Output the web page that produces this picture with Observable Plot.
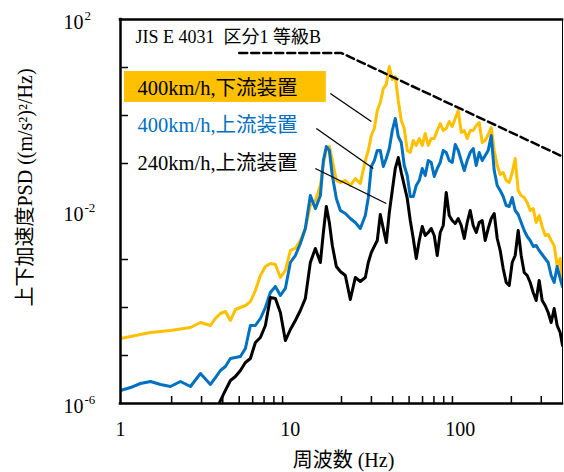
<!DOCTYPE html>
<html>
<head>
<meta charset="utf-8">
<script src="https://cdn.jsdelivr.net/npm/d3@7"></script>
<script src="https://cdn.jsdelivr.net/npm/@observablehq/plot@0.6"></script>
<style>
  body { margin: 0; background: #fff; }
  #chart { width: 564px; height: 472px; }
</style>
</head>
<body>
<div id="chart"></div>
<script>
// Frequency grid (Hz) shared by the three vertical-acceleration PSD curves
const freq = [1, 1.145, 1.311, 1.502, 1.719, 1.969, 2.254, 2.581, 2.955, 3.384,
  3.622, 3.875, 4.146, 4.437, 4.748, 5.08, 5.436, 5.817, 6.225, 6.661,
  7.128, 7.627, 8.162, 8.734, 9.346, 10, 10.70, 11.45, 12.25, 13.11,
  14.03, 15.02, 15.64, 16.28, 16.96, 17.66, 18.65, 19.69, 21.07, 22.54,
  24.12, 25.81, 27.62, 28.76, 29.96, 31.20, 32.49, 33.84, 35.24, 36.71,
  38.23, 39.81, 41.46, 43.18, 44.97, 46.83, 48.77, 50.80, 52.90, 55.09,
  57.38, 59.76, 62.23, 64.81, 67.50, 70.30, 73.21, 76.24, 79.43, 82.72,
  86.15, 89.72, 93.45, 97.32, 101.4, 105.6, 109.9, 114.5, 119.2, 124.2,
  129.3, 134.7, 140.3, 146.1, 152.2, 158.5, 165.1, 171.9, 179.0, 186.5,
  194.2, 202.3, 210.6, 219.4, 228.5, 238.0, 247.9, 258.2, 268.9, 280.0,
  291.6, 303.7, 316.2, 329.4, 343.1, 357.3, 372.1, 387.5, 400];

// 400 km/h, downstream device ((m/s^2)^2/Hz)
const psdDown400 = [2.26e-5, 2.49e-5, 2.74e-5, 3.01e-5, 3.16e-5, 3.32e-5, 3.56e-5, 3.83e-5, 4.87e-5, 4.22e-5,
  5.90e-5, 7.50e-5, 8.25e-5, 5.36e-5, 9.08e-5, 1.0e-4, 1.10e-4, 1.33e-4, 2.26e-4, 4.64e-4,
  7.14e-4, 8.25e-4, 7.87e-4, 4.22e-4, 5.90e-4, 1.54e-3, 1.70e-3, 2.49e-3, 4.42e-3, 1.33e-2,
  1.70e-2, 3.48e-2, 0.10, 0.187, 0.226, 0.115, 0.0442, 0.0402, 0.0442, 0.0348,
  0.0487, 0.0383, 0.115, 0.187, 0.383, 0.536, 1.27, 1.87, 3.65, 4.42,
  10.5, 5.62, 6.49, 2.05, 0.787, 0.536, 0.187, 0.170, 0.301, 0.237,
  0.332, 0.237, 0.422, 0.237, 0.332, 0.332, 0.487, 0.681, 0.487, 0.536,
  0.750, 0.590, 0.866, 1.27, 0.442, 0.487, 0.332, 0.487, 0.487, 0.619,
  0.714, 0.274, 0.301, 0.402, 0.562, 0.187, 0.0908, 0.0590, 0.0649, 0.0442,
  0.0402, 0.0649, 0.127, 0.0274, 0.0215, 0.0196, 0.0154, 0.0105, 0.0115, 0.0059,
  0.00825, 0.00487, 0.00316, 0.00332, 0.00249, 0.00196, 7.5e-4, 1.05e-3, 2.9e-4];

// 400 km/h, upstream device
const psdUp400 = [1.87e-6, 2.15e-6, 2.61e-6, 2.87e-6, 2.49e-6, 2.26e-6, 2.87e-6, 2.26e-6, 4.22e-6, 2.49e-6,
  3.48e-6, 4.87e-6, 5.90e-6, 8.66e-6, 9.08e-6, 9.53e-6, 1.40e-5, 4.22e-5, 4.22e-5, 5.90e-5,
  1.0e-4, 2.05e-4, 2.74e-4, 1.78e-4, 2.49e-4, 8.66e-4, 1.21e-3, 2.15e-3, 4.42e-3, 2.15e-2,
  1.15e-2, 2.15e-2, 0.115, 0.226, 0.187, 0.0562, 0.0187, 0.0105, 9.08e-3, 7.14e-3,
  5.90e-3, 4.42e-3, 8.25e-3, 0.0196, 0.0866, 0.115, 0.187, 0.187, 0.0866, 0.127,
  0.205, 0.487, 0.866, 0.365, 0.274, 0.0908, 0.0562, 0.0205, 0.0205, 0.0348,
  0.0442, 0.0787, 0.0562, 0.115, 0.105, 0.0536, 0.0787, 0.105, 0.187, 0.170,
  0.115, 0.105, 0.249, 0.187, 0.115, 0.0714, 0.115, 0.170, 0.205, 0.0908,
  0.170, 0.115, 0.147, 0.187, 0.383, 0.0714, 0.0348, 0.0274, 0.0205, 0.0133,
  0.0127, 0.0196, 0.0105, 8.66e-3, 5.90e-3, 4.02e-3, 3.01e-3, 2.49e-3, 1.87e-3, 1.96e-3,
  1.54e-3, 1.27e-3, 1.05e-3, 8.66e-4, 4.64e-4, 3.32e-4, 7.14e-4, 4.02e-4, 2.74e-4];

// 240 km/h, upstream device (below the axis minimum under ~3.6 Hz)
const psdUp240 = [null, null, null, null, null, null, null, null, null, null,
  6.5e-7, 1.15e-6, 1.87e-6, 3.01e-6, 3.65e-6, 4.87e-6, 7.14e-6, 8.66e-6, 1.87e-5, 2.37e-5,
  4.22e-5, 1.62e-4, 1.54e-4, 7.87e-5, 2.05e-5, 3.48e-5, 5.36e-5, 8.66e-5, 1.54e-4, 8.66e-4,
  1.70e-3, 8.66e-4, 3.65e-3, 1.27e-2, 5.90e-3, 1.96e-3, 7.14e-4, 5.62e-4, 4.64e-4, 1.47e-4,
  4.22e-4, 3.48e-4, 4.22e-4, 8.66e-4, 1.40e-3, 1.87e-3, 2.49e-3, 8.66e-3, 4.42e-3, 2.26e-3,
  9.53e-3, 0.0274, 0.0787, 0.133, 0.0649, 0.0348, 0.0187, 6.49e-3, 2.74e-3, 1.05e-3,
  2.49e-3, 4.87e-3, 3.16e-3, 3.65e-3, 4.42e-3, 3.16e-3, 1.21e-3, 3.65e-3, 5.11e-3, 0.0249,
  8.25e-3, 6.49e-3, 5.62e-3, 7.14e-3, 5.11e-3, 2.74e-3, 5.90e-3, 0.0105, 5.11e-3, 3.65e-3,
  5.90e-3, 6.49e-3, 2.49e-3, 4.42e-3, 7.14e-3, 9.08e-3, 2.74e-3, 1.54e-3, 6.49e-4, 3.32e-4,
  2.87e-4, 8.66e-4, 1.21e-3, 4.02e-3, 1.21e-3, 5.36e-4, 4.64e-4, 3.32e-4, 2.05e-4, 1.40e-4,
  3.65e-4, 1.40e-4, 1.10e-4, 7.87e-5, 4.87e-5, 9.53e-5, 4.22e-5, 3.01e-5, 1.62e-5];

// JIS E 4031 category 1, class B limit line
const jisFreq = [5, 20, 400];
const jisPsd = [20, 20, 0.14];
const jisLabel = "JIS E 4031\u2002区分1 等級B";
const jisLabelAt = [1.225, 42];

// Series legend: labels, colours and anchor points (Hz, PSD)
const seriesLabels = ["400km/h,下流装置", "400km/h,上流装置", "240km/h,上流装置"];
const seriesColors = ["#FFC000", "#0070C0", "#000000"];
const labelTextColors = ["#000000", "#0070C0", "#000000"];
const labelFreq = [1.259, 1.259, 1.259];
const labelPsd = [3.65, 0.619, 0.1];
const highlightBox = {x1: 1.056, x2: 16.28, y1: 1.87, y2: 8.25};
// Leader lines from each label to its curve
const leaderFrom = [[17.19, 2.87], [14.22, 0.536], [14.03, 0.0787]];
const leaderTo = [[29.96, 0.75], [30.78, 0.0787], [36.71, 0.0147]];

// Axes
const xDomain = [1, 400];
const yDomain = [1e-6, 1e2];
const xLabelTicks = [1, 10, 100];
const xMinorTicks = [2, 3, 4, 5, 6, 7, 8, 9, 20, 30, 40, 50, 60, 70, 80, 90, 200, 300];
const yLabelTicks = [1e2, 1e-2, 1e-6];
const yLabelExps = ["2", "-2", "-6"];
const yMinorTicks = [1e1, 1e0, 1e-1, 1e-3, 1e-4, 1e-5];
const xTitle = "周波数 (Hz)";
const yTitle = "上下加速度PSD ((m/s²)²/Hz)";

const font = "'Liberation Serif', 'Times New Roman', 'Noto Sans CJK JP', serif";

const rows = freq.map((f, i) => ({f, down400: psdDown400[i], up400: psdUp400[i], up240: psdUp240[i]}));
const jisRows = jisFreq.map((f, i) => ({f, p: jisPsd[i]}));
const labels = seriesLabels.map((t, i) => ({t, f: labelFreq[i], p: labelPsd[i], c: labelTextColors[i]}));
const leaders = leaderFrom.map((a, i) => ({x1: a[0], y1: a[1], x2: leaderTo[i][0], y2: leaderTo[i][1]}));
const yExpRows = yLabelTicks.map((v, i) => ({v, e: yLabelExps[i]}));

const W = 564, H = 472, mL = 120, mR = 2, mT = 19, mB = 69;
const frameW = W - mL - mR, frameH = H - mT - mB;

const chart = Plot.plot({
  width: W,
  height: H,
  marginLeft: mL,
  marginRight: mR,
  marginTop: mT,
  marginBottom: mB,
  style: {background: "#fff", fontFamily: font, overflow: "visible"},
  x: {type: "log", domain: xDomain, axis: null},
  y: {type: "log", domain: yDomain, axis: null},
  marks: [
    // highlighted label background
    Plot.rect([highlightBox], {x1: "x1", x2: "x2", y1: "y1", y2: "y2", fill: seriesColors[0]}),
    // inward minor ticks
    Plot.tickX(xMinorTicks, {x: d => d, insetTop: frameH - 7, stroke: "#000", strokeWidth: 1.5}),
    Plot.tickY(yMinorTicks, {y: d => d, insetRight: frameW - 8, stroke: "#000", strokeWidth: 1.5}),
    // PSD curves
    Plot.line(rows, {x: "f", y: "down400", stroke: seriesColors[0], strokeWidth: 3, strokeLinejoin: "round", clip: true}),
    Plot.line(rows, {x: "f", y: "up400", stroke: seriesColors[1], strokeWidth: 3, strokeLinejoin: "round", clip: true}),
    Plot.line(rows, {x: "f", y: "up240", stroke: seriesColors[2], strokeWidth: 3, strokeLinejoin: "round", clip: true}),
    // limit line
    Plot.line(jisRows, {x: "f", y: "p", stroke: "#000", strokeWidth: 2.5, strokeDasharray: "8,4"}),
    // leader lines
    Plot.link(leaders, {x1: "x1", y1: "y1", x2: "x2", y2: "y2", stroke: "#000", strokeWidth: 1.3}),
    // frame
    Plot.ruleY([yDomain[0], yDomain[1]], {stroke: "#000", strokeWidth: 2.5, strokeLinecap: "square"}),
    Plot.ruleX([xDomain[0]], {stroke: "#000", strokeWidth: 2.5, strokeLinecap: "square"}),
    Plot.ruleX([xDomain[1]], {stroke: "#000", strokeWidth: 1}),
    // texts
    Plot.text([jisLabel], {x: jisLabelAt[0], y: jisLabelAt[1], text: d => d, textAnchor: "start", lineAnchor: "middle", fontSize: 18, fill: "#000", fontFamily: font}),
    Plot.text(labels, {x: "f", y: "p", text: "t", fill: "c", textAnchor: "start", lineAnchor: "middle", fontSize: 20.5, fontFamily: font}),
    Plot.text(xLabelTicks, {x: d => d, frameAnchor: "bottom", text: d => String(d), dy: 26, textAnchor: "middle", lineAnchor: "middle", fontSize: 20, fontFamily: font, fill: "#000"}),
    Plot.text(yExpRows, {y: "v", frameAnchor: "left", text: () => "10", textAnchor: "end", dx: -37, dy: 3, lineAnchor: "middle", fontSize: 20, fontFamily: font, fill: "#000"}),
    Plot.text(yExpRows, {y: "v", frameAnchor: "left", text: "e", textAnchor: "start", dx: -36, dy: -4, lineAnchor: "middle", fontSize: 13, fontFamily: font, fill: "#000"}),
    Plot.text([xTitle], {frameAnchor: "bottom", text: d => d, dx: 2, dy: 57, textAnchor: "middle", lineAnchor: "middle", fontSize: 20, fontFamily: font, fill: "#000"}),
    Plot.text([yTitle], {frameAnchor: "left", text: d => d, rotate: -90, dx: -95, dy: -24, textAnchor: "middle", lineAnchor: "middle", fontSize: 20, fontFamily: font, fill: "#000"})
  ]
});

document.getElementById("chart").appendChild(chart);
</script>
</body>
</html>
